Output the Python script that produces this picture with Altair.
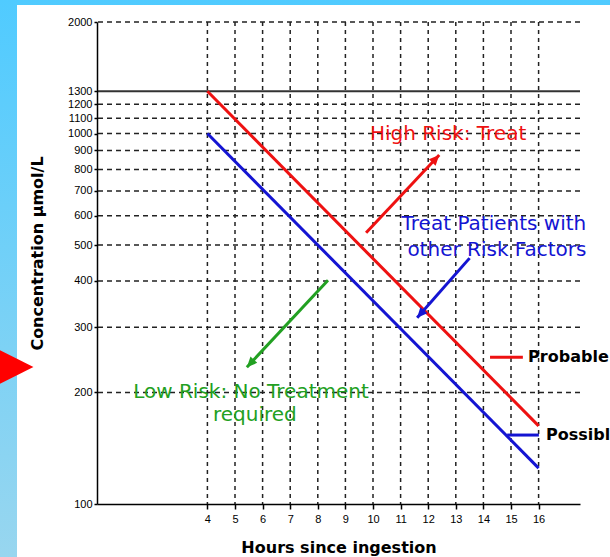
import altair as alt
import pandas as pd

# ---- data ----
hours = [4, 16]
probable = [1300, 162.5]
possible = [1000, 125]

x_ticks = [4, 5, 6, 7, 8, 9, 10, 11, 12, 13, 14, 15, 16]
y_ticks = [100, 200, 300, 400, 500, 600, 700, 800, 900, 1000, 1100, 1200, 1300, 2000]
y_dashed = [200, 300, 400, 500, 600, 700, 800, 900, 1000, 1100, 1200, 2000]
y_solid = [1300]

RED = "#ee1111"
BLUE = "#1414d2"
GREEN = "#22a022"

arrow_x0 = [9.75, 13.5, 8.37]
arrow_c0 = [540, 461, 402]
arrow_x1 = [12.4, 11.6, 5.43]
arrow_c1 = [875, 318, 234]
arrow_colors = [RED, BLUE, GREEN]
arrow_angles = [43, 221, 223]

key_x0 = [14.24, 14.86]
key_x1 = [15.43, 16.01]
key_c = [249, 153.5]
key_colors = [RED, BLUE]
key_labels = ["Probable", "Possible"]
key_label_x = [15.62, 16.27]

note_text = ["High Risk: Treat", "Treat Patients with", "other Risk Factors",
             "Low Risk: No Treatment", "required"]
note_x = [12.72, 14.38, 14.49, 5.58, 5.72]
note_c = [997, 570, 485, 200.5, 174]
note_colors = [RED, BLUE, BLUE, GREEN, GREEN]

W, H = 483, 482
PAD = {"left": 97, "top": 22, "right": 30, "bottom": 53}

xs = alt.Scale(domain=[0, 17.5], nice=False, zero=False)
ys = alt.Scale(type="log", domain=[100, 2000], nice=False)

x_axis = alt.Axis(
    values=x_ticks, title="Hours since ingestion", grid=False,
    tickSize=5, tickWidth=1.5, tickColor="black",
    domainColor="black", domainWidth=1.5,
    labelFont="Liberation Sans", labelFontSize=11, labelColor="black",
    labelPadding=4, labelFlush=False,
    titleFont="DejaVu Sans", titleFontSize=16, titleFontWeight="bold",
    titleColor="black", titleY=43, titleBaseline="middle", zindex=1,
)
y_axis = alt.Axis(
    values=y_ticks, format="d", title="Concentration  µmol/L", grid=False,
    tickSize=3, tickWidth=1.5, tickColor="black",
    domainColor="black", domainWidth=1.5,
    labelFont="Liberation Sans", labelFontSize=11, labelColor="black",
    labelPadding=2, labelOverlap=False, labelFlush=False,
    titleFont="DejaVu Sans", titleFontSize=16, titleFontWeight="bold",
    titleColor="black", titleAngle=270, titleX=-55, titleY=231,
    titleAlign="center", titleBaseline="alphabetic", zindex=1,
)


def X(field):
    return alt.X(field, scale=xs, axis=x_axis, title="Hours since ingestion")


def Y(field):
    return alt.Y(field, scale=ys, axis=y_axis, title="Concentration  µmol/L")


one = pd.DataFrame({"k": [0]})

grad = alt.Gradient(
    gradient="linear",
    stops=[alt.GradientStop(color="#50cbff", offset=0),
           alt.GradientStop(color="#98d6ef", offset=1)],
    x1=0, x2=0, y1=0, y2=1,
)
bg = alt.Chart(one).mark_rect(fill=grad).encode(
    x=alt.value(-97), x2=alt.value(513), y=alt.value(-22), y2=alt.value(535)
)
white = alt.Chart(one).mark_rect(fill="white").encode(
    x=alt.value(-80), x2=alt.value(513), y=alt.value(-17), y2=alt.value(535)
)
tri = alt.Chart(one).mark_point(
    shape="M-1,-1L1,0L-1,1Z", size=1150, filled=True, color="#ff0000",
    opacity=1, strokeWidth=0
).encode(x=alt.value(-80.5), y=alt.value(345))

vgrid = alt.Chart(pd.DataFrame({"hour": x_ticks})).mark_rule(
    strokeDash=[4, 4], strokeWidth=1.5, color="#222"
).encode(x=X("hour:Q"))

hgrid = alt.Chart(pd.DataFrame({"conc": y_dashed})).mark_rule(
    strokeDash=[5, 4], strokeWidth=1.5, color="#222"
).encode(y=Y("conc:Q"))

hsolid = alt.Chart(pd.DataFrame({"conc": y_solid})).mark_rule(
    strokeWidth=2, color="#333"
).encode(y=Y("conc:Q"))

df_lines = pd.DataFrame({
    "hour": hours + hours,
    "conc": probable + possible,
    "series": ["Probable"] * 2 + ["Possible"] * 2,
    "color": [RED] * 2 + [BLUE] * 2,
})
lines = alt.Chart(df_lines).mark_line(strokeWidth=3).encode(
    x=X("hour:Q"),
    y=Y("conc:Q"),
    color=alt.Color("color:N", scale=None),
    detail="series:N",
)

df_key = pd.DataFrame({"x0": key_x0, "x1": key_x1, "c": key_c, "color": key_colors,
                       "label": key_labels, "lx": key_label_x})
key_seg = alt.Chart(df_key).mark_rule(strokeWidth=3).encode(
    x=X("x0:Q"), x2="x1:Q",
    y=Y("c:Q"),
    color=alt.Color("color:N", scale=None),
)
key_txt = alt.Chart(df_key).mark_text(
    font="DejaVu Sans", fontSize=16, fontWeight="bold", align="left",
    baseline="middle", color="black"
).encode(
    x=X("lx:Q"),
    y=Y("c:Q"),
    text="label:N",
)

df_arrows = pd.DataFrame({"x0": arrow_x0, "c0": arrow_c0, "x1": arrow_x1, "c1": arrow_c1,
                          "color": arrow_colors, "angle": arrow_angles})
shafts = alt.Chart(df_arrows).mark_rule(strokeWidth=3).encode(
    x=X("x0:Q"), x2="x1:Q",
    y=Y("c0:Q"), y2="c1:Q",
    color=alt.Color("color:N", scale=None),
)
heads = alt.Chart(df_arrows).mark_point(
    shape="M0,0L-0.45,1L0.45,1Z", size=420, filled=True, opacity=1, strokeWidth=0
).encode(
    x=X("x1:Q"),
    y=Y("c1:Q"),
    angle=alt.Angle("angle:Q", scale=None),
    color=alt.Color("color:N", scale=None),
)

df_notes = pd.DataFrame({"t": note_text, "x": note_x, "c": note_c, "color": note_colors})
notes = alt.Chart(df_notes).mark_text(
    font="DejaVu Sans", fontSize=20, align="center", baseline="middle"
).encode(
    x=X("x:Q"),
    y=Y("c:Q"),
    text="t:N",
    color=alt.Color("color:N", scale=None),
)

chart = alt.layer(
    bg, white, tri, vgrid, hgrid, hsolid, lines, key_seg, shafts, heads, notes, key_txt
).properties(
    width=W, height=H, padding=PAD, autosize=alt.AutoSizeParams(type="none"),
    background="white",
).configure_view(stroke=None)

chart.save("out.html", embed_options={"renderer": "svg", "actions": False})
